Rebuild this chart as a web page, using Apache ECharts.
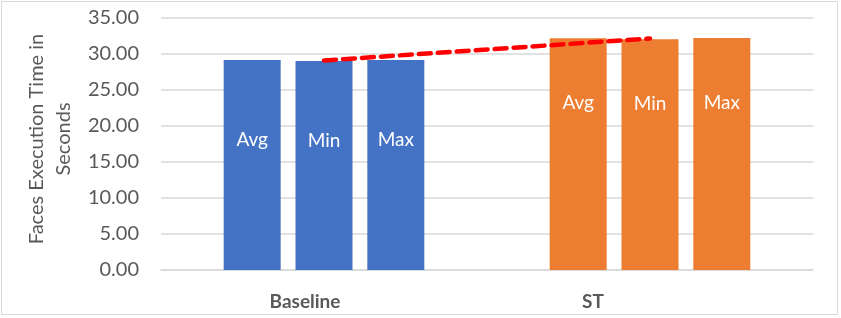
<!DOCTYPE html>
<html>
<head>
<meta charset="utf-8">
<script src="https://cdn.jsdelivr.net/npm/echarts@6/dist/echarts.min.js"></script>
<style>
html,body{margin:0;padding:0;background:#fff;}
#chart{width:841px;height:318px;}
</style>
</head>
<body>
<div id="chart"></div>
<script>
var categories = ['Baseline', 'ST'];
var avgValues = [29.17, 32.2];
var minValues = [29.03, 32.05];
var maxValues = [29.17, 32.22];
var trendValues = [29.1, 32.15];
var barLabels = ['Avg', 'Min', 'Max'];
var yTicks = [0, 5, 10, 15, 20, 25, 30, 35];

var colors = ['#4472C4', '#ED7D31'];
var labelDist = [70, 55];
var catPad = [[0, 38, 0, 0], [0, 114, 0, 0]];
var FONT = 'Lato';

function barSeries(name, vals, text) {
  return {
    type: 'bar',
    name: name,
    barWidth: 57,
    barGap: '26%',
    data: vals.map(function (v, i) {
      return {
        value: v,
        itemStyle: { color: colors[i] },
        label: { distance: labelDist[i] }
      };
    }),
    label: {
      show: true,
      position: 'insideTop',
      formatter: text,
      color: '#fff',
      fontFamily: FONT,
      fontSize: 19
    },
    silent: true
  };
}

var chart = echarts.init(document.getElementById('chart'));
chart.setOption({
  animation: false,
  backgroundColor: '#fff',
  graphic: [{
    type: 'rect',
    shape: { x: 1.5, y: 1.5, width: 836, height: 313 },
    style: { fill: 'none', stroke: '#D9D9D9', lineWidth: 1 },
    silent: true
  }],
  grid: { left: 161, right: 28, top: 18, bottom: 48, containLabel: false, outerBoundsMode: 'none' },
  xAxis: {
    type: 'category',
    data: categories.map(function (c, i) {
      return { value: c, textStyle: { padding: catPad[i] } };
    }),
    axisLine: { show: true, lineStyle: { color: '#D9D9D9', width: 1.5 } },
    axisTick: { show: false },
    axisLabel: { color: '#595959', fontFamily: FONT, fontSize: 19, fontWeight: 'bold', margin: 22 }
  },
  yAxis: {
    type: 'value',
    min: yTicks[0],
    max: yTicks[yTicks.length - 1],
    interval: 5,
    name: 'Faces Execution Time in\nSeconds',
    nameLocation: 'middle',
    nameRotate: 90,
    nameGap: 83,
    nameTextStyle: { color: '#595959', fontFamily: FONT, fontSize: 20, lineHeight: 27, padding: [0, 0, 0, 10] },
    axisLine: { show: false },
    axisTick: { show: false },
    splitLine: { lineStyle: { color: '#D9D9D9', width: 1.5 } },
    axisLabel: {
      color: '#595959', fontFamily: FONT, fontSize: 20, margin: 22,
      formatter: function (v) { return v.toFixed(2); }
    }
  },
  series: [
    barSeries('Avg', avgValues, barLabels[0]),
    barSeries('Min', minValues, barLabels[1]),
    barSeries('Max', maxValues, barLabels[2]),
    {
      type: 'line',
      name: 'Trend',
      data: trendValues,
      symbol: 'none',
      z: 5,
      lineStyle: { color: '#FF0000', width: 4.5, type: [12, 7], cap: 'round' },
      silent: true
    }
  ]
});
</script>
</body>
</html>
